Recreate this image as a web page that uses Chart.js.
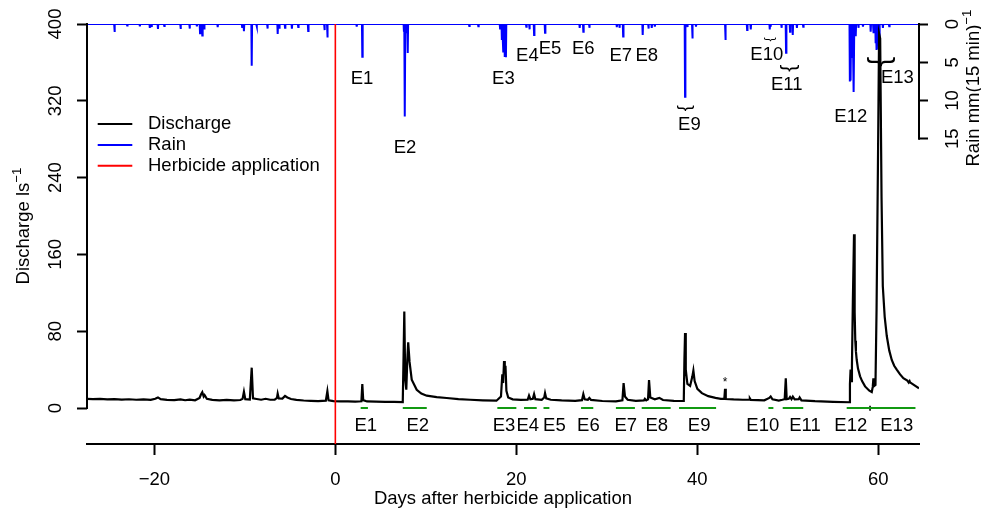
<!DOCTYPE html>
<html><head><meta charset="utf-8">
<script src="https://cdn.jsdelivr.net/npm/chart.js@4"></script>
<style>html,body{margin:0;padding:0;background:#fff;}canvas{display:block;}</style>
</head><body>
<canvas id="c" width="981" height="511"></canvas>
<script>
const FONT = '"Liberation Sans", Arial, Helvetica, sans-serif';

// ---- tick labels ----
const xTicks = [-20, 0, 20, 40, 60];
const yTicks = [0, 80, 160, 240, 320, 400];
const rainTicks = [0, 5, 10, 15];

// ---- discharge (l/s) ----
const dischargeDays = [-27.44,-26.8,-26.0,-25.2,-24.4,-23.6,-22.8,-22.0,-21.2,-20.4,-19.9,-19.6,-19.3,-18.6,-17.8,-17.1,-16.6,-16.1,-15.5,-15.0,-14.85,-14.7,-14.55,-14.45,-14.2,-13.6,-12.8,-12.0,-11.2,-10.5,-10.25,-10.1,-9.95,-9.45,-9.24,-9.1,-8.7,-8.2,-7.7,-7.2,-6.7,-6.45,-6.37,-6.25,-5.85,-5.56,-5.3,-4.9,-4.3,-3.5,-2.7,-1.9,-1.05,-0.88,-0.75,-0.2,0.6,1.4,2.2,2.88,2.98,3.08,3.5,4.5,5.5,6.5,7.45,7.54,7.62,7.72,7.84,7.95,8.05,8.2,8.44,8.99,9.5,10.1,11.2,12.3,13.6,14.9,16.3,17.8,18.3,18.45,18.54,18.64,18.72,18.8,18.9,19.1,19.6,20.5,21.25,21.4,21.55,21.82,21.96,22.1,22.8,23.08,23.17,23.3,23.8,25.0,26.5,27.25,27.4,27.55,27.9,28.07,28.25,29.5,31.0,31.72,31.85,32.0,32.3,33.2,34.1,34.2,34.35,34.55,34.66,34.8,35.3,35.8,36.2,37.4,38.5,38.57,38.64,38.72,38.9,39.2,39.45,39.56,39.7,40.0,40.5,41.2,42.0,42.6,42.98,43.06,43.14,44.0,45.0,45.72,45.8,45.9,47.4,47.95,48.1,48.3,49.0,49.4,49.65,49.77,49.87,50.1,50.24,50.4,50.55,50.75,51.2,51.3,51.5,53.0,55.0,56.8,56.86,56.93,57.0,57.08,57.18,57.31,57.38,57.45,57.52,57.61,57.75,57.98,58.2,58.53,59.0,59.27,59.38,59.45,59.55,59.68,59.8,59.95,60.08,60.2,60.35,60.49,60.7,60.93,61.2,61.48,61.75,62.03,62.4,62.76,63.2,63.35,63.45,63.5,64.0,64.49];
const dischargeValues = [9.5,9.2,9.5,8.9,9.3,8.8,9.1,8.6,8.9,8.4,9.6,11,9.2,8.5,8.2,9.0,8.1,8.8,8.0,10.5,14,16.5,12,13.5,9.5,8.4,8.0,8.4,8.0,8.3,9.5,17,9.2,8.8,42,10,9.4,8.6,9.6,8.6,8.8,10.5,15,10,9.8,12.5,11,9.4,8.4,7.8,7.5,7.2,7.6,17.5,8,7.1,6.9,7.0,6.7,7,25,8.2,6.8,6.6,6.4,6.3,6.2,55,100.5,30,19,50,68.5,48,29.5,19,15,12.8,11.3,10.4,9.3,8.6,8.0,7.6,12,35,26,49,36,44,18,11,9,8.4,8.6,13,9.2,9.6,14.5,9.2,8.5,11,15.5,10,8.6,7.9,7.4,8.2,14.5,9,8.6,10.5,8.5,7.3,7.0,8,26,12,8.6,7.5,8,9.5,8,9,29,11,9,10.5,8.3,7.5,7.3,50,78,40,25,23,33,39,28,20,15.5,12.3,10.5,9.6,9.5,20,9.4,8.9,8.6,8.7,10,8.5,8.0,10.5,12,9,7.8,8.6,9.2,31,9.2,9.6,11.5,9.2,11.8,9,9.2,11,8.0,7.1,6.4,6.0,25,40,28,44,110,181,100,70,59,50,41,33,28,22.5,18,16.6,22,31,23,24,102,250,390,385,220,127,95,75,60,50,44,40,35,31,28.5,26.5,28,26.7,23.5,20.5];

// ---- rain (mm per 15 min) ----
const rainDays = [-24.4,-23.0,-21.6,-20.5,-20.3,-19.6,-18.9,-17.1,-16.1,-15.3,-14.95,-14.7,-14.5,-13.0,-10.3,-10.1,-9.24,-8.7,-7.5,-6.37,-6.2,-5.56,-4.8,-4.1,-3.0,-1.2,-0.88,2.36,2.98,7.58,7.69,7.8,8.0,14.8,15.8,18.2,18.4,18.55,18.7,18.85,21.1,21.45,21.96,23.17,27.0,27.4,28.07,31.1,31.4,31.8,33.96,34.6,34.96,35.3,38.64,38.9,39.45,39.85,43.1,45.5,45.9,48.0,48.1,49.3,49.8,50.24,50.54,51.0,51.7,56.85,56.95,57.1,57.2,57.3,57.5,57.8,58.3,59.15,59.45,59.7,59.8,60.0,60.1,60.5,61.2];
const rainValues = [1.05,0.2,0.3,0.5,0.4,0.65,0.25,0.65,0.6,0.3,1.2,1.5,0.6,0.4,0.4,0.95,5.45,0.3,0.6,1.3,0.5,0.5,0.6,0.4,0.9,0.8,1.75,0.35,4.27,1.0,12.1,1.2,3.8,0.26,0.3,0.6,2.1,3.6,4.3,4.35,0.35,0.7,1.44,1.13,0.5,1.0,0.5,0.4,0.5,1.65,1.44,0.6,0.5,0.35,9.5,0.4,1.9,0.35,2.1,0.8,0.7,0.7,0.35,0.5,3.75,1.0,1.44,0.5,0.35,7.5,7.4,4.3,3.0,8.9,1.6,0.5,0.35,1.0,1.2,2.5,3.4,3.3,2.1,0.5,0.3];

// ---- events ----
const eventNames = ['E1','E2','E3','E4','E5','E6','E7','E8','E9','E10','E11','E12','E13'];
const eventStart = [2.8,7.45,17.9,20.85,23.0,27.15,31.0,33.85,37.98,47.85,49.43,56.5,59.08];
const eventEnd   = [3.6,10.1,20.0,22.25,23.65,28.5,33.1,37.05,42.07,48.4,51.7,59.08,64.1];
const herbicideDay = 0;

// ---- annotation anchors (data coordinates) ----
const topLabelDay  = [2.95,7.7,18.57,21.22,23.72,27.4,31.54,34.41,39.12,47.67,49.88,56.95,62.1];
const topLabelRain = [7.2,16.2,7.2,4.15,3.2,3.2,4.15,4.15,13.2,4.05,7.97,12.1,7.1];
const bottomLabelDay = [3.37,9.1,18.64,21.26,24.2,27.96,32.09,35.51,40.2,47.23,51.9,56.95,62.03];
const bottomLabelQ = -18.4;
const braceDay  = [38.75,48.11,50.24,60.27];
const braceRain = [11.0,2.0,5.8,4.93];
const braceFont = [18,13,21,30];
const starDay = 43.06, starQ = 23.2;

// ---- scale ranges ----
const X_MIN = -27.44, X_MAX = 64.49;
const Y_MIN = -37.5, Y_MAX = 400;
const Y2_MAX = 54.9;

const fmt = v => (v < 0 ? '\u2212' + Math.abs(v) : String(v));

// build line tables
const dischargeData = dischargeDays.map((d, i) => ({x: d, y: dischargeValues[i]}));
const rainData = [{x: X_MIN, y: 0}];
rainDays.forEach((d, i) => {
  rainData.push({x: d - 0.04, y: 0}, {x: d, y: rainValues[i]}, {x: d + 0.04, y: 0});
});
rainData.push({x: X_MAX, y: 0});
const eventData = [];
eventStart.forEach((s, i) => {
  eventData.push({x: s, y: 0}, {x: eventEnd[i], y: 0}, {x: eventEnd[i] + 0.001, y: null});
});
const herbData = [{x: herbicideDay, y: Y_MIN}, {x: herbicideDay, y: Y_MAX}];
const sepData = [{x: eventStart[12], y: -2.8}, {x: eventStart[12], y: 2.4}];

function rotText(ctx, x, y, main, sup, size) {
  ctx.save();
  ctx.translate(x, y);
  ctx.rotate(-Math.PI / 2);
  ctx.font = size + 'px ' + FONT;
  const w1 = ctx.measureText(main).width;
  ctx.font = (size * 0.72) + 'px ' + FONT;
  const w2 = sup ? ctx.measureText(sup).width : 0;
  const start = -(w1 + w2) / 2;
  ctx.textAlign = 'left';
  ctx.textBaseline = 'alphabetic';
  ctx.font = size + 'px ' + FONT;
  ctx.fillText(main, start, 0);
  if (sup) {
    ctx.font = (size * 0.72) + 'px ' + FONT;
    ctx.fillText(sup, start + w1, -size * 0.42);
  }
  ctx.restore();
}

const overlay = {
  id: 'overlay',
  afterDraw(chart) {
    const {ctx, scales: {x, y, y2}} = chart;
    ctx.save();
    ctx.strokeStyle = '#000';
    ctx.lineWidth = 2;
    // left axis line (0..400)
    ctx.beginPath();
    ctx.moveTo(y.right, y.getPixelForValue(yTicks[0]) + 1);
    ctx.lineTo(y.right, y.getPixelForValue(yTicks[yTicks.length - 1]) - 1);
    ctx.stroke();
    // right axis line (0..15)
    ctx.beginPath();
    ctx.moveTo(y2.left, y2.getPixelForValue(rainTicks[0]) - 1);
    ctx.lineTo(y2.left, y2.getPixelForValue(rainTicks[rainTicks.length - 1]) + 1);
    ctx.stroke();

    ctx.fillStyle = '#000';
    ctx.font = '18.5px ' + FONT;
    ctx.textAlign = 'center';
    ctx.textBaseline = 'middle';
    // event labels
    eventNames.forEach((n, i) => {
      ctx.fillText(n, x.getPixelForValue(topLabelDay[i]), y2.getPixelForValue(topLabelRain[i]));
      ctx.fillText(n, x.getPixelForValue(bottomLabelDay[i]), y.getPixelForValue(bottomLabelQ));
    });
    // braces
    braceDay.forEach((d, i) => {
      ctx.save();
      ctx.translate(x.getPixelForValue(d), y2.getPixelForValue(braceRain[i]));
      ctx.rotate(Math.PI / 2);
      ctx.font = braceFont[i] + 'px ' + FONT;
      ctx.textAlign = 'center';
      ctx.textBaseline = 'middle';
      ctx.fillText('}', 0, 0);
      ctx.restore();
    });
    // asterisk
    ctx.font = '12px ' + FONT;
    ctx.textBaseline = 'alphabetic';
    ctx.fillText('*', x.getPixelForValue(starDay), y.getPixelForValue(starQ));

    // legend
    const items = [['Discharge', '#000000'], ['Rain', '#0000ff'], ['Herbicide application', '#ff0000']];
    const ly = [124, 145, 165.7];
    items.forEach((it, i) => {
      ctx.strokeStyle = it[1];
      ctx.lineWidth = 2;
      ctx.beginPath();
      ctx.moveTo(97.7, ly[i]);
      ctx.lineTo(132.3, ly[i]);
      ctx.stroke();
      ctx.fillStyle = '#000';
      ctx.font = '18.5px ' + FONT;
      ctx.textAlign = 'left';
      ctx.textBaseline = 'middle';
      ctx.fillText(it[0], 148, ly[i]);
    });

    // axis titles
    ctx.fillStyle = '#000';
    ctx.font = '18.5px ' + FONT;
    ctx.textAlign = 'center';
    ctx.textBaseline = 'alphabetic';
    ctx.fillText('Days after herbicide application', (x.left + x.right) / 2, 504);
    rotText(ctx, 28.5, 226, 'Discharge ls', '\u22121', 18.5);
    rotText(ctx, 979, 88, 'Rain mm(15 min)', '\u22121', 18.5);
    ctx.restore();
  }
};

Chart.defaults.font.family = FONT;
Chart.defaults.color = '#000';

new Chart(document.getElementById('c'), {
  type: 'line',
  data: {
    datasets: [
      {label: 'Herbicide application', data: herbData, yAxisID: 'y', borderColor: '#ff0000', borderWidth: 1.6, order: 0},
      {label: 'Discharge', data: dischargeData, yAxisID: 'y', borderColor: '#000000', borderWidth: 2.2, order: 1},
      {label: 'Rain', data: rainData, yAxisID: 'y2', borderColor: '#0000ff', borderWidth: 2, order: 2},
      {label: 'Events', data: eventData, yAxisID: 'y', borderColor: '#119911', borderWidth: 2.2, spanGaps: false, order: 3},
      {label: 'sep', data: sepData, yAxisID: 'y', borderColor: '#000000', borderWidth: 1.6, order: 3}
    ]
  },
  options: {
    responsive: false,
    animation: false,
    devicePixelRatio: 1,
    layout: {padding: {top: 24, left: 0, right: 0, bottom: 0}},
    plugins: {legend: {display: false}, tooltip: {enabled: false}},
    elements: {point: {radius: 0, hoverRadius: 0}, line: {tension: 0, fill: false}},
    events: [],
    scales: {
      x: {
        type: 'linear', position: 'bottom', min: X_MIN, max: X_MAX,
        afterBuildTicks: s => { s.ticks = xTicks.map(v => ({value: v})); },
        afterFit: s => { s.height = 67; s.paddingLeft = 0; s.paddingRight = 0; },
        ticks: {callback: v => fmt(v), color: '#000', font: {size: 18.5, family: FONT}, padding: 14, minRotation: 0, maxRotation: 0, autoSkip: false},
        grid: {display: true, drawOnChartArea: false, drawTicks: true, tickLength: 11, tickColor: '#000', tickWidth: 2},
        border: {display: true, color: '#000', width: 2}
      },
      y: {
        type: 'linear', position: 'left', min: Y_MIN, max: Y_MAX,
        afterBuildTicks: s => { s.ticks = yTicks.map(v => ({value: v})); },
        afterFit: s => { s.width = 87; s.paddingTop = 0; s.paddingBottom = 0; },
        ticks: {callback: v => fmt(v), color: '#000', font: {size: 18.5, family: FONT}, padding: 6, minRotation: 90, maxRotation: 90, crossAlign: 'center', autoSkip: false},
        grid: {display: true, drawOnChartArea: false, drawTicks: true, tickLength: 10, tickColor: '#000', tickWidth: 2},
        border: {display: false}
      },
      y2: {
        type: 'linear', position: 'right', min: 0, max: Y2_MAX, reverse: true,
        afterBuildTicks: s => { s.ticks = rainTicks.map(v => ({value: v})); },
        afterFit: s => { s.width = 62; s.paddingTop = 0; s.paddingBottom = 0; },
        ticks: {callback: v => fmt(v), color: '#000', font: {size: 18.5, family: FONT}, padding: 14.7, minRotation: 90, maxRotation: 90, crossAlign: 'center', autoSkip: false},
        grid: {display: true, drawOnChartArea: false, drawTicks: true, tickLength: 9, tickColor: '#000', tickWidth: 2},
        border: {display: false}
      }
    }
  },
  plugins: [overlay]
});
</script>
</body></html>
